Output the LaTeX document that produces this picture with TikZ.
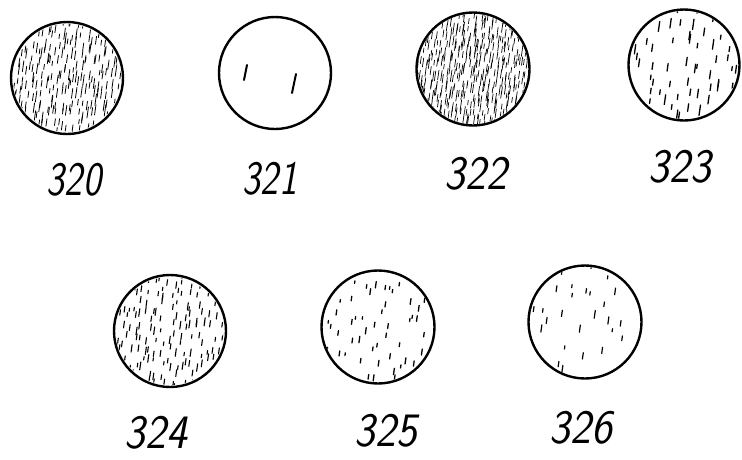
\documentclass[tikz,border=0pt]{standalone}
\usepackage{tikz}
\usetikzlibrary{calc}
\newcommand{\grain}[7]{%
  \pgfmathsetseed{#6}
  \pgfmathtruncatemacro{\gnx}{#2/#3+1}
  \pgfmathtruncatemacro{\gny}{#2/#4+1}
  \begin{scope}
    \clip (#1.center) circle[radius={#2pt-2pt}];
    \foreach \i in {-\gnx,...,\gnx}{
      \foreach \j in {-\gny,...,\gny}{
        \pgfmathsetmacro{\gx}{\i*#3+#3*(rnd-0.5)}
        \pgfmathsetmacro{\gy}{\j*#4+#4*(rnd-0.5)}
        \pgfmathsetmacro{\gl}{#5*(0.5+0.8*rnd)}
        \draw[speck,line width=#7] ($(#1.center)+(\gx,\gy)$) -- ++(\gl*0.14,-\gl);
      }
    }
  \end{scope}}

\begin{document}
\begin{tikzpicture}[x=1pt,y=-1pt,
  disc/.style={circle,draw,line width=2.4pt,inner sep=0pt,minimum size=#1},
  speck/.style={line cap=round},
  lbl/.style={font=\fontsize{48}{48}\selectfont\sffamily\itshape,inner sep=0pt},
]
\useasboundingbox (0,0) rectangle (742,459);
\node[disc=112pt] (c320) at (67,78)   {};
\node[disc=112pt] (c321) at (275,73)  {};
\node[disc=113pt] (c322) at (473,69)  {};
\node[disc=111pt] (c323) at (684,65)  {};
\node[disc=112pt] (c324) at (170,331) {};
\node[disc=113pt] (c325) at (378,327) {};
\node[disc=113pt] (c326) at (585,322) {};

\node[lbl] (l320) at (74,180)  {\scalebox{0.8}[1]{320}};
\node[lbl] (l321) at (270,179) {\scalebox{0.8}[1]{321}};
\node[lbl] (l322) at (476,174) {\scalebox{0.92}[1]{322}};
\node[lbl] (l323) at (680,167) {\scalebox{0.92}[1]{323}};
\node[lbl] (l324) at (156,433) {\scalebox{0.92}[1]{324}};
\node[lbl] (l325) at (386,431) {\scalebox{0.92}[1]{325}};
\node[lbl] (l326) at (581,428) {\scalebox{0.92}[1]{326}};

\grain{c320}{56}{5}{10}{9}{320}{0.8pt}
\draw[speck,line width=2pt] ($(c321.center)+(-31,7)$) -- ++(3,-15);
\draw[speck,line width=2pt] ($(c321.center)+(17,20)$) -- ++(4,-19);
\grain{c322}{57}{4}{8}{9}{322}{0.7pt}
\grain{c323}{56}{13}{15}{8}{323}{1.3pt}
\grain{c324}{56}{7}{11}{6}{324}{1.1pt}
\grain{c325}{57}{14}{15}{5}{325}{1.3pt}
\grain{c326}{57}{19}{19}{6}{326}{1.2pt}
\end{tikzpicture}
\end{document}
